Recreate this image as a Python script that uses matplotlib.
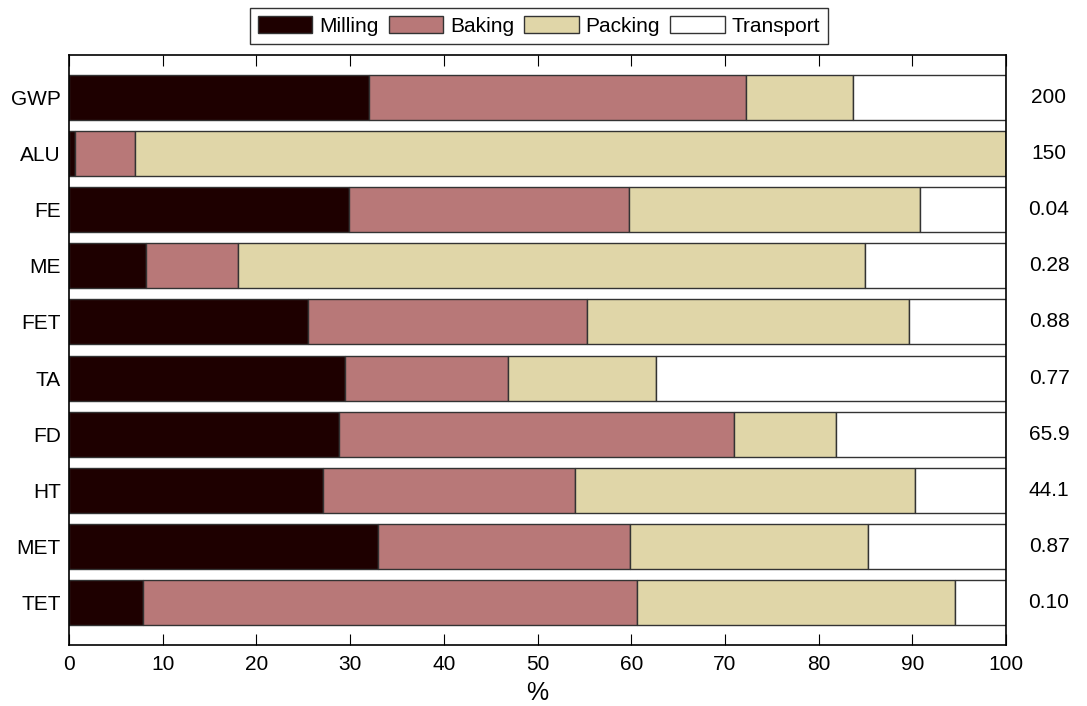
import matplotlib
matplotlib.use("Agg")
import matplotlib.pyplot as plt
import matplotlib.transforms as mtransforms
import numpy as np

categories = ["GWP", "ALU", "FE", "ME", "FET", "TA", "FD", "HT", "MET", "TET"]
milling = [32.0, 0.6, 29.9, 8.2, 25.5, 29.5, 28.8, 27.1, 33.0, 7.9]
baking = [40.3, 6.4, 29.9, 9.8, 29.8, 17.3, 42.2, 26.9, 26.9, 52.7]
packing = [11.4, 93.0, 31.0, 66.9, 34.4, 15.9, 10.9, 36.3, 25.4, 34.0]
transport = [16.3, 0.0, 9.2, 15.1, 10.3, 37.3, 18.1, 9.7, 14.7, 5.4]
totals = ["200", "150", "0.04", "0.28", "0.88", "0.77", "65.9", "44.1", "0.87", "0.10"]
series_names = ["Milling", "Baking", "Packing", "Transport"]
colors = ["#1E0000", "#B87878", "#E0D6A8", "#FFFFFF"]

plt.rcParams['font.family'] = ['Liberation Sans', 'DejaVu Sans']

fig = plt.figure(figsize=(10.87, 7.06), dpi=100)
ax = fig.add_axes([69/1087, 1-645/706, (1006-69)/1087, (645-55)/706])

y = np.arange(len(categories))
left = np.zeros(len(categories))
handles = []
for name, vals, c in zip(series_names, [milling, baking, packing, transport], colors):
    vals = np.array(vals)
    h = ax.barh(y, vals, left=left, height=0.8, color=c, edgecolor="#333333",
                linewidth=1.0, label=name)
    handles.append(h)
    left += vals

ax.set_xlim(0, 100)
ax.set_ylim(len(categories) - 0.25, -0.75)
ax.set_yticks(y)
ax.set_yticklabels(categories, fontsize=15)
ax.tick_params(axis='y', length=0, pad=6)
ax.set_xticks(np.arange(0, 101, 10))
ax.tick_params(axis='x', direction='in', length=8, top=True, width=0.8,
               labelsize=15, pad=7)
ax.set_xlabel("%", fontsize=18, labelpad=5)
for s in ax.spines.values():
    s.set_linewidth(1.2)
    s.set_color("black")

trans = mtransforms.blended_transform_factory(ax.transAxes, ax.transData)
for yi, t in zip(y, totals):
    ax.text((1049-69)/937, yi, t, transform=trans, ha='center', va='center',
            fontsize=15, clip_on=False)

leg = fig.legend(handles=handles, labels=series_names, loc='upper center',
                 bbox_to_anchor=(539/1087, 1-8/706), ncol=4, fontsize=15,
                 frameon=True, fancybox=False, edgecolor='black',
                 handlelength=2.6, handleheight=0.83, handletextpad=0.33,
                 columnspacing=0.5, borderpad=0.4, borderaxespad=0)
leg.get_frame().set_linewidth(1.0)

fig.savefig("out.png", dpi=100)
